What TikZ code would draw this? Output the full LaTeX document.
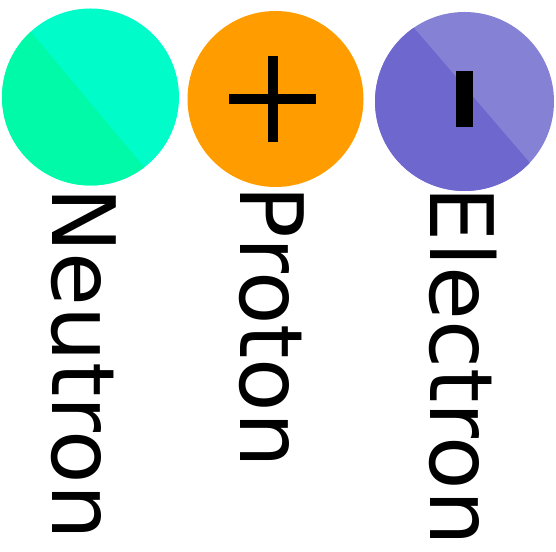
\documentclass[tikz,border=0pt]{standalone}
\usepackage{fontspec}
\setmainfont{DejaVu Sans}
\definecolor{neuA}{HTML}{00FAA8}
\definecolor{neuB}{HTML}{00FCC8}
\definecolor{proC}{HTML}{FF9C00}
\definecolor{eleA}{HTML}{6E67CD}
\definecolor{eleB}{HTML}{8581D5}
\tikzset{
  lbl/.style={rotate=-90, anchor=base west, inner sep=0pt, outer sep=0pt,
    font=\fontsize{87.5}{90}\selectfont, text=black},
}
\begin{document}
\begin{tikzpicture}[x=1pt,y=1pt]
\useasboundingbox (0,0) rectangle (556,551);
% Neutron
\coordinate (nc) at (90.5,454);
\fill[neuB] (nc) circle[radius=88.5];
\fill[neuA] (nc) ++(132.5:88.5) arc[start angle=132.5, end angle=307.4, radius=88.5] -- cycle;
% Proton
\coordinate (pc) at (275.5,452);
\fill[proC] (pc) circle[radius=88];
\fill[black] (229,447) rectangle (316,457);
\fill[black] (268,409) rectangle (278,495);
% Electron
\coordinate (ec) at (464.5,449.5);
\fill[eleB] (ec) circle[radius=89.5];
\fill[eleA] (ec) ++(124.5:89.5) arc[start angle=124.5, end angle=316.8, radius=89.5] -- cycle;
\fill[black] (456,424) rectangle (473,480);
% Labels
\node[lbl] (neutron) at (52.7,363.5) {Neutron};
\node[lbl] (proton) at (240.7,365.2) {Proton};
\node[lbl] (electron) at (430.7,364) {Electron};
\end{tikzpicture}
\end{document}
